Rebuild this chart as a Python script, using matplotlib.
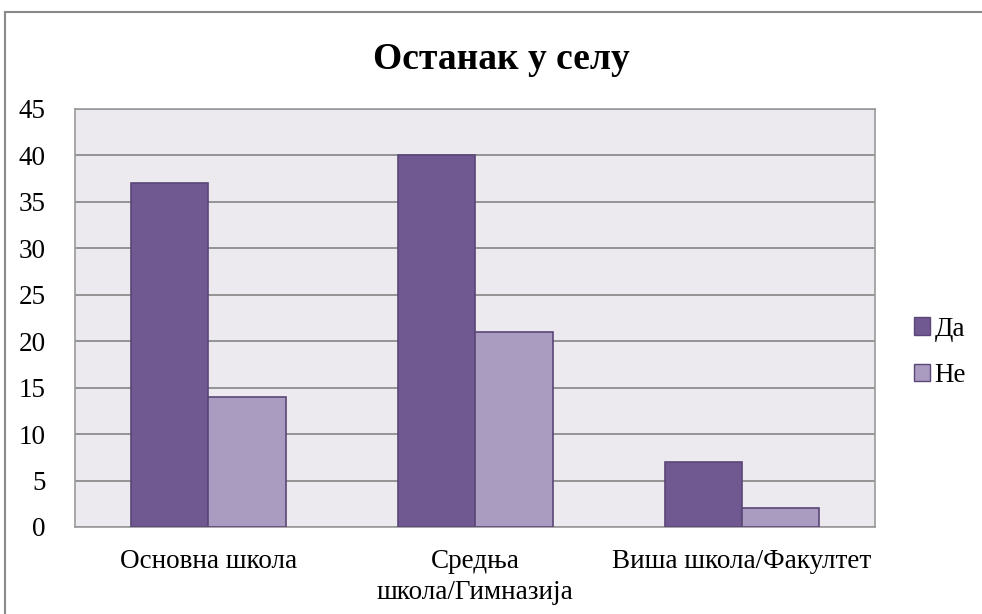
import matplotlib.pyplot as plt
import numpy as np
from matplotlib.lines import Line2D
from matplotlib.patches import Patch

plt.rcParams['font.family'] = ['Liberation Serif', 'DejaVu Serif']

# подаци
categories = ['Основна школа', 'Средња\nшкола/Гимназија', 'Виша школа/Факултет']
da = [37, 40, 7]
ne = [14, 21, 2]
yticks = [0, 5, 10, 15, 20, 25, 30, 35, 40, 45]

c_da = '#705890'
c_ne = '#AA9BC0'
c_edge = '#5A4677'

fig = plt.figure(figsize=(9.82, 6.14), dpi=100)
ax = fig.add_axes([0.0764, 0.1417, 0.815, 0.6808])
ax.set_facecolor('#ECE9EF')

x = np.arange(len(categories))
w = 0.29
ax.bar(x - w / 2, da, w, color=c_da, edgecolor=c_edge, linewidth=1.2, zorder=3, label='Да')
ax.bar(x + w / 2, ne, w, color=c_ne, edgecolor=c_edge, linewidth=1.2, zorder=3, label='Не')

ax.set_xlim(-0.5, 2.5)
ax.set_ylim(0, 45)
ax.set_yticks(yticks)
ax.set_yticklabels([str(v) for v in yticks], fontsize=19.5)
ax.set_xticks(x)
ax.set_xticklabels(categories, fontsize=19.5, linespacing=1.32)
ax.tick_params(axis='both', length=0)
ax.tick_params(axis='x', pad=16)
ax.tick_params(axis='y', pad=21)
for lbl in ax.get_yticklabels():
    lbl.set_horizontalalignment('right')
ax.yaxis.grid(True, color='#8C8C8C', linewidth=1.3, zorder=1)
for s in ax.spines.values():
    s.set_color('#9A9A9A')
    s.set_linewidth(1.2)

fig.text(0.511, 0.903, 'Останак у селу', ha='center', va='center',
         fontsize=27, fontweight='bold')

handles = [Patch(facecolor=c_da, edgecolor=c_edge), Patch(facecolor=c_ne, edgecolor=c_edge)]
fig.legend(handles, ['Да', 'Не'], loc='center left', bbox_to_anchor=(0.917, 0.426),
           frameon=False, fontsize=19.5, handlelength=0.6, handleheight=0.6,
           handletextpad=0.15, labelspacing=0.8, borderpad=0)

# оквир слике
fig.add_artist(Line2D([5 / 982, 1], [1 - 12 / 614, 1 - 12 / 614], color='#8A8A8A', lw=1.5))
fig.add_artist(Line2D([5 / 982, 5 / 982], [0, 1 - 12 / 614], color='#8A8A8A', lw=1.5))

fig.savefig('out.png', dpi=100)
